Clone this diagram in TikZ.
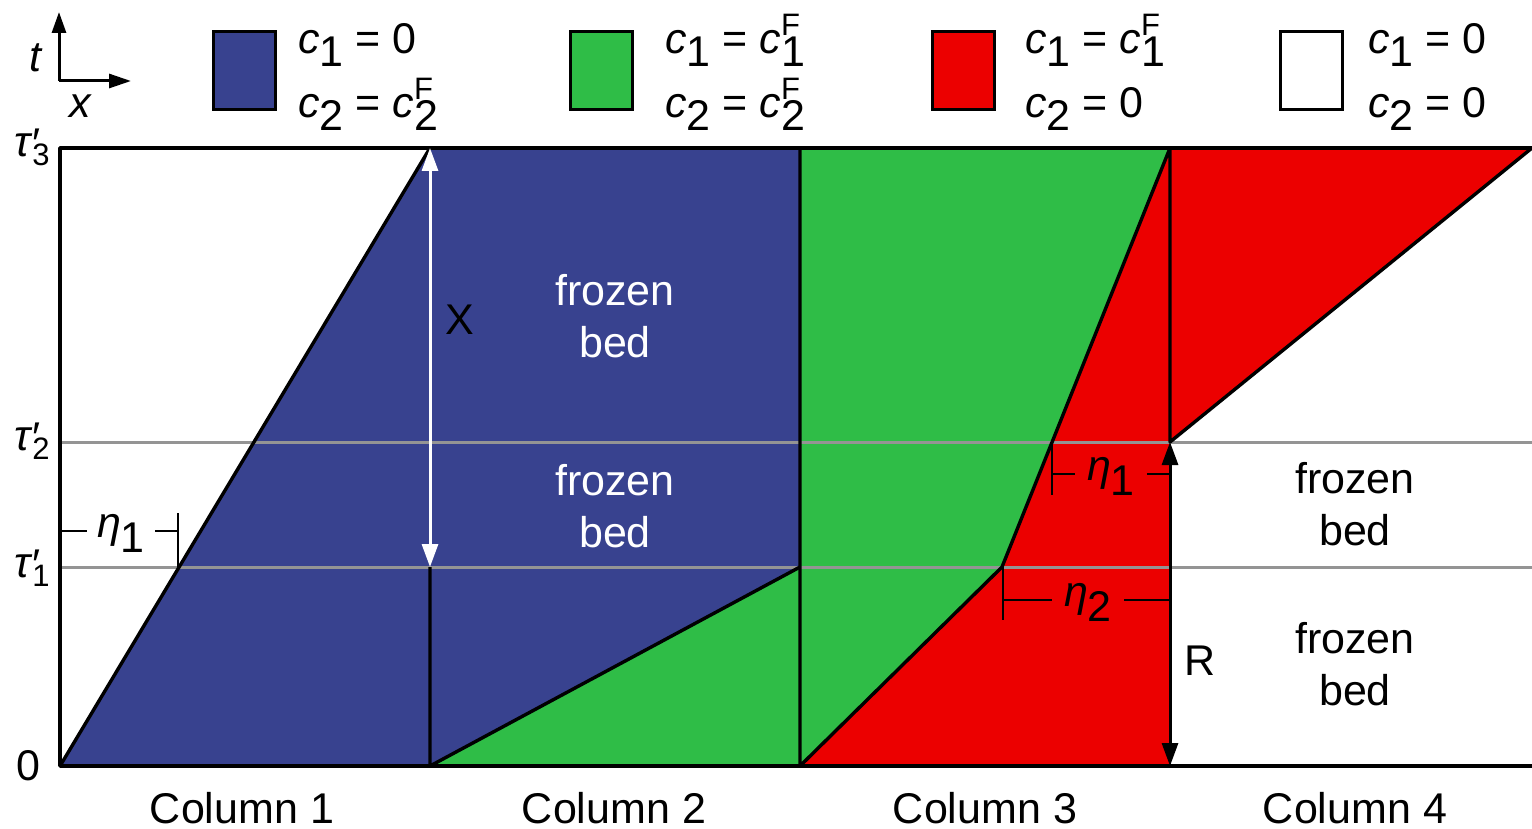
\documentclass[tikz,border=0pt]{standalone}
\usepackage{fontspec}
\setmainfont{Liberation Sans}
\usetikzlibrary{arrows.meta}
\definecolor{cblue}{RGB}{56,66,143}
\definecolor{cgreen}{RGB}{47,189,71}
\definecolor{cred}{RGB}{236,0,0}
\definecolor{cgray}{RGB}{148,148,148}
\newcommand{\smf}[1]{{\fontsize{31}{31}\selectfont #1}}
\newcommand{\cs}[1]{\textit{c}\raisebox{-13pt}{#1}}
\newcommand{\csF}[1]{\textit{c}\rlap{\raisebox{18pt}{\smf{F}}}\raisebox{-13pt}{#1}}
\newcommand{\taus}[1]{\textit{τ}\rlap{\raisebox{-2pt}{′}}\raisebox{-9pt}{\smf{#1}}}
\newcommand{\etas}[1]{\textit{η}\raisebox{-15pt}{#1}}
\begin{document}
\begin{tikzpicture}[x=1pt,y=-1pt,
  every node/.style={font=\fontsize{43}{52}\selectfont, inner sep=0pt},
  blk/.style={line width=3.4pt, line join=round},
  grayline/.style={cgray, line width=3pt},
  dimline/.style={line width=2.2pt},
  legbox/.style={draw, line width=3pt, minimum width=62pt, minimum height=78pt},
  lbl/.style={anchor=base west}]
\useasboundingbox (0,0) rectangle (1532,829);
% coordinates
\coordinate (A0) at (60,766);  \coordinate (A1) at (60,567);
\coordinate (A2) at (60,442);  \coordinate (A3) at (60,148);
\coordinate (B0) at (430,766); \coordinate (B1) at (430,567); \coordinate (B3) at (430,148);
\coordinate (C0) at (800,766); \coordinate (C1) at (800,567); \coordinate (C3) at (800,148);
\coordinate (D0) at (1170,766); \coordinate (D2) at (1170,442); \coordinate (D3) at (1170,148);
\coordinate (E0) at (1532,766); \coordinate (E1) at (1532,567);
\coordinate (E2) at (1532,442); \coordinate (E3) at (1532,148);
\coordinate (P1) at (1002,567);
% fills
\fill[cblue] (A0) -- (B0) -- (B3) -- cycle;
\fill[cblue] (B0) rectangle (C3);
\fill[cgreen] (B0) -- (C0) -- (C1) -- cycle;
\fill[cgreen] (C0) rectangle (D3);
\fill[cred] (C0) -- (P1) -- (D3) -- (D0) -- cycle;
\fill[cred] (D3) -- (E3) -- (D2) -- cycle;
% gray lines
\draw[grayline] (A2) -- (E2);
\draw[grayline] (A1) -- (E1);
% black lines
\draw[blk] (E3) -- (A3) -- (A0) -- (E0);
\draw[blk] (A0) -- (B3);
\draw[blk] (B1) -- (B0) -- (C1);
\draw[blk] (C3) -- (C0) -- (P1) -- (D3) -- (D2) -- (E3);
% arrows
\draw[white, line width=3pt, {Triangle[length=23pt,width=16pt]}-{Triangle[length=23pt,width=16pt]}] (B3) -- (B1);
\draw[black, line width=3pt, {Triangle[length=23pt,width=16pt]}-{Triangle[length=23pt,width=16pt]}] (D2) -- (D0);
\node (X) at (460,320) {X};
\node[anchor=base] (R) at (1200,675) {R};
% dimension eta1, column 1
\coordinate (d1s) at (60,531);
\coordinate (d1t) at (178,513); \coordinate (d1b) at (178,567); \coordinate (d1e) at (178,531);
\node[anchor=base, inner xsep=10pt] (eta1a) at (121,537) {\etas{1}};
\draw[dimline] (d1s) -- (eta1a.west |- d1s);
\draw[dimline] (eta1a.east |- d1e) -- (d1e);
\draw[dimline] (d1t) -- (d1b);
% dimension eta1, column 3
\coordinate (d2t) at (1052,442); \coordinate (d2b) at (1052,495);
\coordinate (d2s) at (1052,474); \coordinate (d2e) at (1170,474);
\node[anchor=base, inner xsep=12pt] (eta1b) at (1111,480) {\etas{1}};
\draw[dimline] (d2s) -- (eta1b.west |- d2s);
\draw[dimline] (eta1b.east |- d2e) -- (d2e);
\draw[dimline] (d2t) -- (d2b);
% dimension eta2, column 3
\coordinate (d3t) at (1003,567); \coordinate (d3b) at (1003,620);
\coordinate (d3s) at (1003,600); \coordinate (d3e) at (1170,600);
\node[anchor=base, inner xsep=12pt] (eta2) at (1088,606) {\etas{2}};
\draw[dimline] (d3s) -- (eta2.west |- d3s);
\draw[dimline] (eta2.east |- d3e) -- (d3e);
\draw[dimline] (d3t) -- (d3b);
% region labels
\node[align=center, white] (fb1) at (615,316) {frozen\\bed};
\node[align=center, white] (fb2) at (615,506) {frozen\\bed};
\node[align=center] (fb3) at (1355,504) {frozen\\bed};
\node[align=center] (fb4) at (1355,664) {frozen\\bed};
% column labels
\node[anchor=base] (col1) at (242,823) {Column 1};
\node[anchor=base] (col2) at (614,823) {Column 2};
\node[anchor=base] (col3) at (985,823) {Column 3};
\node[anchor=base] (col4) at (1355,823) {Column 4};
% axis labels
\node[lbl] (tau3) at (14,157) {\taus{3}};
\node[lbl] (tau2) at (14,450) {\taus{2}};
\node[lbl] (tau1) at (14,577) {\taus{1}};
\node[anchor=base] (zero) at (28,780) {0};
% axes legend
\coordinate (ax0) at (59,81); \coordinate (axt) at (59,12); \coordinate (axx) at (131,81);
\draw[line width=3pt, -{Triangle[length=21pt,width=14pt]}] (ax0) -- (axt);
\draw[line width=3pt, -{Triangle[length=22pt,width=14pt]}] (ax0) -- (axx);
\node[anchor=base] (tl) at (36,72) {\textit{t}};
\node[anchor=base] (xl) at (81,118) {\textit{x}};
% legend
\node[legbox, fill=cblue] (lg1) at (244,71) {};
\node[lbl] (lg1a) at (298,54) {\cs{1} = 0};
\node[lbl] (lg1b) at (298,118) {\cs{2} = \csF{2}};
\node[legbox, fill=cgreen] (lg2) at (601,71) {};
\node[lbl] (lg2a) at (665,54) {\cs{1} = \csF{1}};
\node[lbl] (lg2b) at (665,118) {\cs{2} = \csF{2}};
\node[legbox, fill=cred] (lg3) at (963,71) {};
\node[lbl] (lg3a) at (1025,54) {\cs{1} = \csF{1}};
\node[lbl] (lg3b) at (1025,118) {\cs{2} = 0};
\node[legbox, fill=white] (lg4) at (1311,71) {};
\node[lbl] (lg4a) at (1368,54) {\cs{1} = 0};
\node[lbl] (lg4b) at (1368,118) {\cs{2} = 0};
\end{tikzpicture}
\end{document}
